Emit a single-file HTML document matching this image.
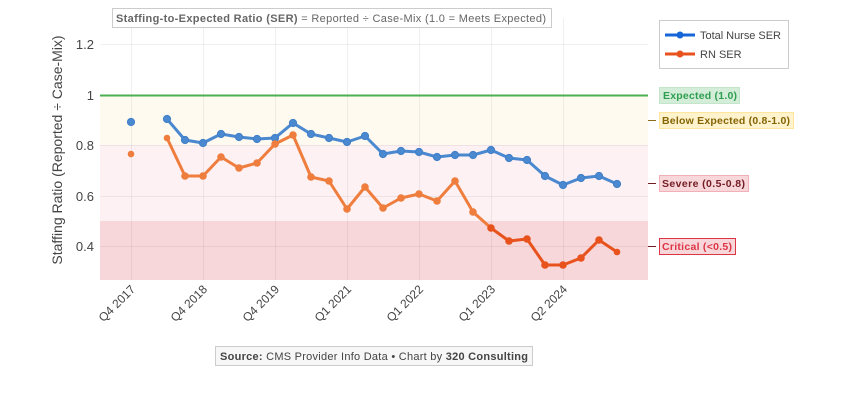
<!DOCTYPE html>
<html><head><meta charset="utf-8"><style>
html,body{margin:0;padding:0;background:#fff;}
svg{display:block;font-family:"Liberation Sans",Arial,sans-serif;}
</style></head><body>
<svg width="847" height="400" viewBox="0 0 847 400" xmlns="http://www.w3.org/2000/svg">
<rect width="847" height="400" fill="#fff"/>
<rect x="100" y="95" width="548" height="50" fill="#fffaef"/>
<rect x="100" y="145" width="548" height="76" fill="#fdf1f3"/>
<rect x="100" y="221" width="548" height="59" fill="#f7d7da"/>
<g stroke="#000" stroke-opacity="0.06" stroke-width="1">
<line x1="100" x2="648" y1="44.5" y2="44.5"/>
<line x1="100" x2="648" y1="145.5" y2="145.5"/>
<line x1="100" x2="648" y1="196.5" y2="196.5"/>
<line x1="100" x2="648" y1="246.5" y2="246.5"/>
<line x1="131.5" x2="131.5" y1="18" y2="280"/>
<line x1="203.5" x2="203.5" y1="18" y2="280"/>
<line x1="275.5" x2="275.5" y1="18" y2="280"/>
<line x1="347.5" x2="347.5" y1="18" y2="280"/>
<line x1="419.5" x2="419.5" y1="18" y2="280"/>
<line x1="491.5" x2="491.5" y1="18" y2="280"/>
<line x1="563.5" x2="563.5" y1="18" y2="280"/>
</g>
<line x1="100" x2="648" y1="95.5" y2="95.5" stroke="#4caf50" stroke-width="2"/>
<g font-size="13" fill="#444" text-anchor="end">
<text x="94" y="49">1.2</text>
<text x="94" y="100">1</text>
<text x="94" y="150">0.8</text>
<text x="94" y="201">0.6</text>
<text x="94" y="251">0.4</text>
</g>
<text transform="translate(62,150) rotate(-90)" font-size="14" fill="#444" text-anchor="middle">Staffing Ratio (Reported ÷ Case-Mix)</text>
<g font-size="12" fill="#444" text-anchor="end">
<text transform="translate(136,290) rotate(-45)">Q4 2017</text>
<text transform="translate(208,290) rotate(-45)">Q4 2018</text>
<text transform="translate(280,290) rotate(-45)">Q4 2019</text>
<text transform="translate(352,290) rotate(-45)">Q1 2021</text>
<text transform="translate(424,290) rotate(-45)">Q1 2022</text>
<text transform="translate(496,290) rotate(-45)">Q1 2023</text>
<text transform="translate(568,290) rotate(-45)">Q2 2024</text>
</g>
<g stroke="#4a88d0" stroke-width="3" fill="none" stroke-linejoin="round">
<polyline points="167,119 185,140 203,143 221,134 239,137 257,139 275,138 293,123 311,134 329,138 347,142 365,136 383,154 401,151 419,152 437,157 455,155 473,155 491,150 509,158 527,160 545,176 563,185 581,178 599,176 617,184"/>
</g>
<g fill="#4a88d0" stroke="#3f7fc9" stroke-width="1">
<circle cx="131" cy="122" r="3.6"/><circle cx="167" cy="119" r="3.6"/><circle cx="185" cy="140" r="3.6"/><circle cx="203" cy="143" r="3.6"/><circle cx="221" cy="134" r="3.6"/><circle cx="239" cy="137" r="3.6"/><circle cx="257" cy="139" r="3.6"/><circle cx="275" cy="138" r="3.6"/><circle cx="293" cy="123" r="3.6"/><circle cx="311" cy="134" r="3.6"/><circle cx="329" cy="138" r="3.6"/><circle cx="347" cy="142" r="3.6"/><circle cx="365" cy="136" r="3.6"/><circle cx="383" cy="154" r="3.6"/><circle cx="401" cy="151" r="3.6"/><circle cx="419" cy="152" r="3.6"/><circle cx="437" cy="157" r="3.6"/><circle cx="455" cy="155" r="3.6"/><circle cx="473" cy="155" r="3.6"/><circle cx="491" cy="150" r="3.6"/><circle cx="509" cy="158" r="3.6"/><circle cx="527" cy="160" r="3.6"/><circle cx="545" cy="176" r="3.6"/><circle cx="563" cy="185" r="3.6"/><circle cx="581" cy="178" r="3.6"/><circle cx="599" cy="176" r="3.6"/><circle cx="617" cy="184" r="3.6"/>
</g>
<g stroke-width="3" fill="none" stroke-linejoin="round">
<polyline stroke="#ef7e3e" points="167,138 185,176 203,176 221,157 239,168 257,163 275,144 293,135 311,177 329,181 347,209 365,187 383,208 401,198 419,194 437,201 455,181 473,212 491,228"/>
<polyline stroke="#e8521c" points="491,228 509,241 527,239 545,265 563,265 581,258 599,240 617,252"/>
</g>
<g fill="#ef7e3e">
<circle cx="131" cy="154" r="3.3"/><circle cx="167" cy="138" r="3.3"/><circle cx="185" cy="176" r="3.8"/><circle cx="203" cy="176" r="3.8"/><circle cx="221" cy="157" r="3.8"/><circle cx="239" cy="168" r="3.8"/><circle cx="257" cy="163" r="3.8"/><circle cx="275" cy="144" r="3.8"/><circle cx="293" cy="135" r="3.8"/><circle cx="311" cy="177" r="3.8"/><circle cx="329" cy="181" r="3.8"/><circle cx="347" cy="209" r="3.8"/><circle cx="365" cy="187" r="3.8"/><circle cx="383" cy="208" r="3.8"/><circle cx="401" cy="198" r="3.8"/><circle cx="419" cy="194" r="3.8"/><circle cx="437" cy="201" r="3.8"/><circle cx="455" cy="181" r="3.8"/><circle cx="473" cy="212" r="3.8"/>
</g>
<g fill="#e8521c">
<circle cx="491" cy="228" r="3.8"/><circle cx="509" cy="241" r="3.8"/><circle cx="527" cy="239" r="3.8"/><circle cx="545" cy="265" r="3.8"/><circle cx="563" cy="265" r="3.8"/><circle cx="581" cy="258" r="3.8"/><circle cx="599" cy="240" r="3.8"/><circle cx="617" cy="252" r="3.3"/>
</g>
<rect x="112.5" y="8.5" width="439" height="19" fill="#fff" stroke="#ccc"/>
<text x="116" y="22" font-size="11" fill="#666" textLength="430" lengthAdjust="spacing"><tspan font-weight="bold">Staffing-to-Expected Ratio (SER)</tspan> = Reported ÷ Case-Mix (1.0 = Meets Expected)</text>
<rect x="659.5" y="20.5" width="129" height="48" fill="#fff" stroke="#ccc"/>
<line x1="665" x2="695" y1="35" y2="35" stroke="#1565d8" stroke-width="3"/>
<circle cx="680" cy="35" r="3.5" fill="#1565d8"/>
<text x="700" y="39" font-size="11" fill="#444" textLength="81" lengthAdjust="spacing">Total Nurse SER</text>
<line x1="665" x2="695" y1="54" y2="54" stroke="#e8521c" stroke-width="3"/>
<circle cx="680" cy="54" r="3.5" fill="#e8521c"/>
<text x="700" y="58" font-size="11" fill="#444">RN SER</text>
<rect x="659.5" y="87.5" width="80" height="16" fill="#d4edd9" stroke="#c3e6cb"/>
<text x="663" y="99" font-size="10.5" font-weight="bold" fill="#2e9e4f" textLength="74" lengthAdjust="spacing">Expected (1.0)</text>
<line x1="648" x2="656" y1="120.5" y2="120.5" stroke="#8a6d1a"/>
<rect x="659.5" y="112.5" width="134" height="16" fill="#fff3cd" stroke="#ffe69c"/>
<text x="662" y="124" font-size="10.5" font-weight="bold" fill="#856404" textLength="128" lengthAdjust="spacing">Below Expected (0.8-1.0)</text>
<line x1="648" x2="656" y1="183.5" y2="183.5" stroke="#721c24"/>
<rect x="659.5" y="175.5" width="89" height="16" fill="#f8d7da" stroke="#f1b0b7"/>
<text x="662" y="187" font-size="10.5" font-weight="bold" fill="#721c24" textLength="83" lengthAdjust="spacing">Severe (0.5-0.8)</text>
<line x1="648" x2="656" y1="246.5" y2="246.5" stroke="#721c24"/>
<rect x="659.5" y="238.5" width="76" height="16" fill="#f8d7da" stroke="#dc3545"/>
<text x="662" y="250" font-size="10.5" font-weight="bold" fill="#dc3545" textLength="70" lengthAdjust="spacing">Critical (&lt;0.5)</text>
<rect x="215.5" y="346.5" width="317" height="19" fill="#f7f7f7" stroke="#ccc"/>
<text x="220" y="360" font-size="11" fill="#444" textLength="308" lengthAdjust="spacing"><tspan font-weight="bold">Source:</tspan> CMS Provider Info Data • Chart by <tspan font-weight="bold">320 Consulting</tspan></text>
</svg>
</body></html>
